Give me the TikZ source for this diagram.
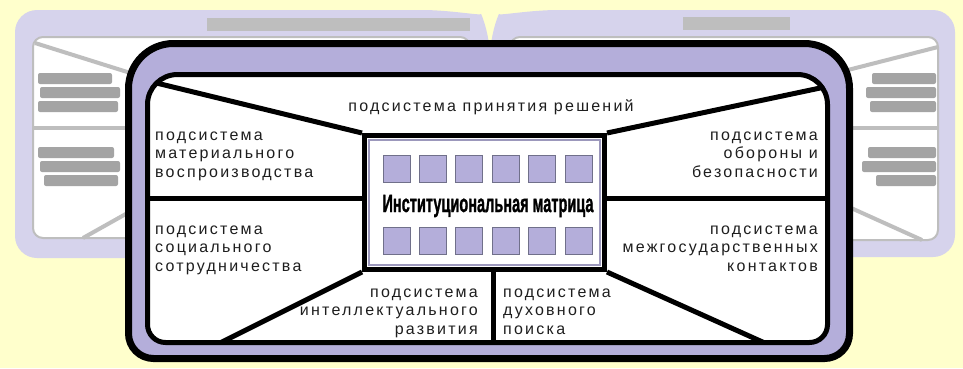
\documentclass[tikz,border=0pt]{standalone}
\usepackage{fontspec}
\usepackage{graphicx}
\setmainfont{Liberation Sans}
\newfontfamily\lblfont[LetterSpace=14]{Liberation Sans}
\newfontfamily\matfont[BoldFeatures={FakeBold=1.5}]{Liberation Sans}
\usetikzlibrary{calc}
\definecolor{bgyellow}{HTML}{FFFFCC}
\definecolor{mainlav}{HTML}{B4AEDA}
\definecolor{pagelav}{HTML}{D6D3EC}
\definecolor{pagegray}{HTML}{BEBEBE}
\definecolor{smudgecol}{HTML}{A4A4A4}
\definecolor{sqstroke}{HTML}{70708A}
\definecolor{matinner}{HTML}{9C98BC}
\definecolor{txtcol}{HTML}{1E1E1E}
\begin{document}
\begin{tikzpicture}[x=1pt,y=-1pt,
  lbl/.style={inner sep=0pt, font=\lblfont\fontsize{16}{18.5}\selectfont, text=txtcol},
  divider/.style={line width=5pt, draw=black},
  sqbox/.style={draw=sqstroke, fill=mainlav, line width=1pt, minimum size=27pt, inner sep=0pt},
  smudge/.style={fill=smudgecol, rounded corners=2pt},
  pageline/.style={line width=4pt, draw=pagegray},
  pageinner/.style={fill=white, draw=pagegray, line width=2pt, rounded corners=10pt}]
\useasboundingbox (0,0) rectangle (963,368);
\fill[bgyellow] (0,0) rectangle (963,368);

% ---------- faded background pages ----------
\fill[pagelav, rounded corners=22pt] (490,258) -- (15,258) -- (15,10) -- (400,10)
  .. controls (450,10) and (482,16) .. (490,34) -- cycle;
\fill[pagelav, rounded corners=22pt] (490,34) .. controls (498,16) and (530,10) .. (580,10)
  -- (955,10) -- (955,257) -- (490,257) -- cycle;
\fill[pagegray] (207,18) rectangle (470,31);
\fill[pagegray] (683,17) rectangle (790,30);
\draw[pageinner] (33,37) rectangle (470,238);
\draw[pageinner] (510,37) rectangle (938,240);
% left page lines
\draw[pageline] (35,43) -- (140,76);
\draw[pageline] (33,128) -- (140,128);
\draw[pageline] (83,238) -- (140,206);
% right page lines
\draw[pageline] (840,72) -- (938,47);
\draw[pageline] (840,128) -- (938,128);
\draw[pageline] (840,203) -- (922,240);
% illegible text smudges
\fill[smudge] (38,73) rectangle (112,84);
\fill[smudge] (40,87) rectangle (120,98);
\fill[smudge] (38,101) rectangle (118,112);
\fill[smudge] (38,147) rectangle (114,158);
\fill[smudge] (40,161) rectangle (120,172);
\fill[smudge] (44,175) rectangle (118,186);
\fill[smudge] (872,73) rectangle (936,84);
\fill[smudge] (866,87) rectangle (936,98);
\fill[smudge] (870,101) rectangle (936,112);
\fill[smudge] (868,147) rectangle (936,158);
\fill[smudge] (862,161) rectangle (936,172);
\fill[smudge] (876,175) rectangle (936,186);

% ---------- main frame ----------
\filldraw[fill=mainlav, draw=black, line width=7pt]
  (128.5,200) [rounded corners=25pt] -- (128.5,358.5) -- (849.5,358.5) -- (849.5,200)
  [rounded corners=45pt] -- (849.5,43.5) -- (128.5,43.5) -- cycle;
\fill[white] (147.5,200) [rounded corners=18pt] -- (147.5,342.5) -- (827.5,342.5) -- (827.5,200)
  [rounded corners=30pt] -- (827.5,74.5) -- (147.5,74.5) -- cycle;

% matrix node (placed first so dividers can refer to it)
\node[draw=black, line width=5pt, fill=white, minimum width=240pt, minimum height=134pt,
      inner sep=0pt] (mat) at (484.5,202.5) {};

\begin{scope}
  \clip (147.5,200) [rounded corners=18pt] -- (147.5,342.5) -- (827.5,342.5) -- (827.5,200)
    [rounded corners=30pt] -- (827.5,74.5) -- (147.5,74.5) -- cycle;
  \coordinate (tlend) at (140,79);
  \coordinate (trend) at (832,85.5);
  \coordinate (lh) at (140,198);
  \coordinate (rh) at (835,198);
  \coordinate (blend) at (210,348);
  \coordinate (brend) at (777,348.5);
  \coordinate (bv) at (493,350);
  \draw[divider] (tlend) -- (mat.north west);
  \draw[divider] (mat.north east) -- (trend);
  \draw[divider] (lh) -- (lh -| mat.west);
  \draw[divider] (rh) -- (rh -| mat.east);
  \draw[divider] (mat.south west) -- (blend);
  \draw[divider] (mat.south east) -- (brend);
  \draw[divider] (bv) -- (bv |- mat.south);
\end{scope}
\draw[black, line width=5pt] (147.5,200) [rounded corners=18pt] -- (147.5,342.5) -- (827.5,342.5) -- (827.5,200)
  [rounded corners=30pt] -- (827.5,74.5) -- (147.5,74.5) -- cycle;

% redraw matrix on top
\node[draw=black, line width=5pt, fill=white, minimum width=240pt, minimum height=134pt,
      inner sep=0pt] at (mat.center) {};
\draw[matinner, line width=1.2pt] ($(mat.north west)+(7,7)$) rectangle ($(mat.south east)+(-7,-7)$);
\foreach \i in {0,...,5} {
  \node[sqbox] (sqt\i) at (396.5+36.4*\i,168.5) {};
  \node[sqbox] (sqb\i) at (396.5+36.4*\i,240.5) {};
}
\node[inner sep=0pt, anchor=base] (mattitle) at (488,212)
  {\resizebox{211pt}{\height}{\matfont\fontsize{25}{25}\selectfont\bfseries Институциональная матрица}};

% ---------- labels ----------
\node[lbl, anchor=base] (decide) at (491,111) {подсистема принятия решений};
\node[lbl, anchor=north west, align=left] (mater) at (155,128)
  {\rule{0pt}{12pt}подсистема\\материального\\воспроизводства};
\node[lbl, anchor=north west, align=left] (social) at (155,222)
  {\rule{0pt}{12pt}подсистема\\социального\\сотрудничества};
\node[lbl, anchor=north east, align=right] (defense) at (818,128)
  {\rule{0pt}{12pt}подсистема\\обороны и\\безопасности};
\node[lbl, anchor=north east, align=right] (inter) at (818,222)
  {\rule{0pt}{12pt}подсистема\\межгосударственных\\контактов};
\node[lbl, anchor=north east, align=right] (intel) at (478,285)
  {\rule{0pt}{12pt}подсистема\\интеллектуального\\развития};
\node[lbl, anchor=north west, align=left] (spirit) at (503,285)
  {\rule{0pt}{12pt}подсистема\\духовного\\поиска};
\end{tikzpicture}
\end{document}
